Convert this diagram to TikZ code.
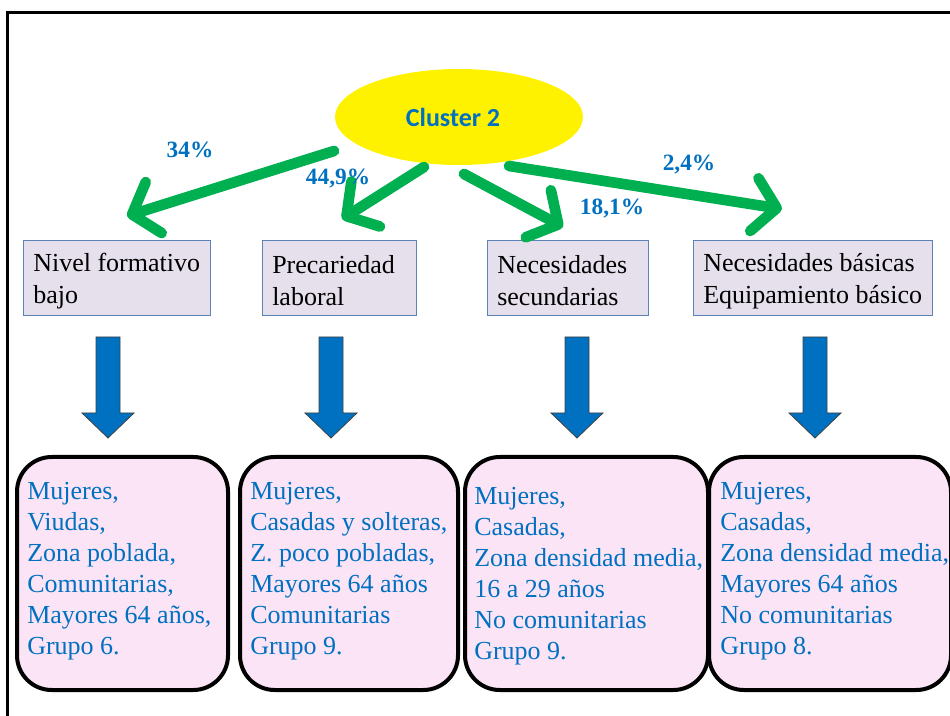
\documentclass[tikz,border=0pt]{standalone}
\usepackage{fontspec}
\setmainfont{Liberation Serif}
\newfontfamily\carlito{Carlito}
\usetikzlibrary{arrows.meta,shapes.geometric}
\definecolor{tblue}{HTML}{0070C0}
\definecolor{tgreen}{HTML}{00B050}
\definecolor{lav}{HTML}{E5E0EC}
\definecolor{lavborder}{HTML}{5B83B8}
\definecolor{pinkfill}{HTML}{FCE4F7}
\tikzset{
  clusternode/.style={ellipse, fill=yellow, draw=none, minimum width=248*0.75pt, minimum height=96*0.75pt,
    inner sep=0pt},
  clustertext/.style={font=\carlito\bfseries\fontsize{19.5pt}{22pt}\selectfont, text=tblue, inner sep=0pt},
  pct/.style={font=\bfseries\fontsize{17.5pt}{20pt}\selectfont, text=tblue, inner sep=0pt},
  catbox/.style={draw=lavborder, fill=lav, line width=0.8pt, minimum height=75*0.75pt, anchor=north west,
    inner sep=0pt},
  cattext/.style={font=\fontsize{19.5pt}{24pt}\selectfont, align=left, anchor=west, inner sep=0pt},
  profbox/.style={draw=black, fill=pinkfill, line width=3pt, rounded corners=26pt, minimum height=233*0.75pt,
    anchor=north west, inner sep=0pt},
  proftext/.style={font=\fontsize{19.5pt}{23.25pt}\selectfont, text=tblue, align=left, anchor=west, inner sep=0pt},
  greenarrow/.style={draw=tgreen, line width=8pt, line cap=round,
    -{Straight Barb[length=17pt, width=40pt, line cap=round, line join=round]}},
  downarr/.pic={\draw[fill=tblue, draw=black!75, line width=0.6pt]
    (-12,0) -- (12,0) -- (12,76) -- (26,76) -- (0,101) -- (-26,76) -- (-12,76) -- cycle;}
}
\begin{document}
\begin{tikzpicture}[x=0.75pt,y=-0.75pt]
\useasboundingbox (0,0) rectangle (950,716);
\clip (0,0) rectangle (950,716);
% frame
\draw[line width=2.3pt] (7.5,760) -- (7.5,12.5) -- (990,12.5);
% cluster
\node[clusternode] (cl) at (459,117) {};
\node[clustertext] (clt) at (453,117) {Cluster 2};
% category boxes
\node[catbox, minimum width=187*0.75pt] (b1) at (23,240) {};
\node[catbox, minimum width=154*0.75pt] (b2) at (262,240) {};
\node[catbox, minimum width=161*0.75pt] (b3) at (487,240) {};
\node[catbox, minimum width=239*0.75pt] (b4) at (693,240) {};
\node[cattext] (t1) at ([xshift=10*0.75pt,yshift=-3*0.75pt]b1.west) {Nivel formativo\\bajo};
\node[cattext] (t2) at ([xshift=10*0.75pt,yshift=-3*0.75pt]b2.west) {Precariedad\\laboral};
\node[cattext] (t3) at ([xshift=10*0.75pt,yshift=-3*0.75pt]b3.west) {Necesidades\\secundarias};
\node[cattext] (t4) at ([xshift=10*0.75pt,yshift=-3*0.75pt]b4.west) {Necesidades básicas\\Equipamiento básico};
% green arrows
\coordinate (s1) at (334,151);
\coordinate (e1) at (127,216);
\coordinate (s2) at (424,167);
\coordinate (e2) at (342,219);
\coordinate (s3) at (464,174);
\coordinate (e3) at (563,227);
\coordinate (s4) at (509,166);
\coordinate (e4) at (782,209);
\draw[greenarrow] (s1) -- (e1);
\draw[greenarrow] (s2) -- (e2);
\draw[greenarrow] (s3) -- (e3);
\draw[greenarrow] (s4) -- (e4);
\node[pct] (p1) at (190,150) {34\%};
\node[pct] (p2) at (338,179) {44,9\%};
\node[pct] (p3) at (612,209) {18,1\%};
\node[pct] (p4) at (689,165) {2,4\%};
% profile boxes
\node[profbox, minimum width=211*0.75pt] (r1) at (15,455) {};
\node[profbox, minimum width=218*0.75pt] (r2) at (238,455) {};
\node[profbox, minimum width=243*0.75pt] (r3) at (463,455) {};
\node[profbox, minimum width=242*0.75pt] (r4) at (707,455) {};
\node[proftext] (q1) at ([xshift=12*0.75pt,yshift=2*0.75pt]r1.west) {Mujeres,\\Viudas,\\Zona poblada,\\Comunitarias,\\Mayores 64 años,\\Grupo 6.};
\node[proftext] (q2) at ([xshift=12*0.75pt,yshift=2*0.75pt]r2.west) {Mujeres,\\Casadas y solteras,\\Z. poco pobladas,\\Mayores 64 años\\Comunitarias\\Grupo 9.};
\node[proftext] (q3) at ([xshift=11*0.75pt,yshift=-3*0.75pt]r3.west) {Mujeres,\\Casadas,\\Zona densidad media,\\16 a 29 años\\No comunitarias\\Grupo 9.};
\node[proftext] (q4) at ([xshift=13*0.75pt,yshift=2*0.75pt]r4.west) {Mujeres,\\Casadas,\\Zona densidad media,\\Mayores 64 años\\No comunitarias\\Grupo 8.};
% blue block arrows
\pic at (108,337) {downarr};
\pic at (331,337) {downarr};
\pic at (577,337) {downarr};
\pic at (815,337) {downarr};
\end{tikzpicture}
\end{document}
